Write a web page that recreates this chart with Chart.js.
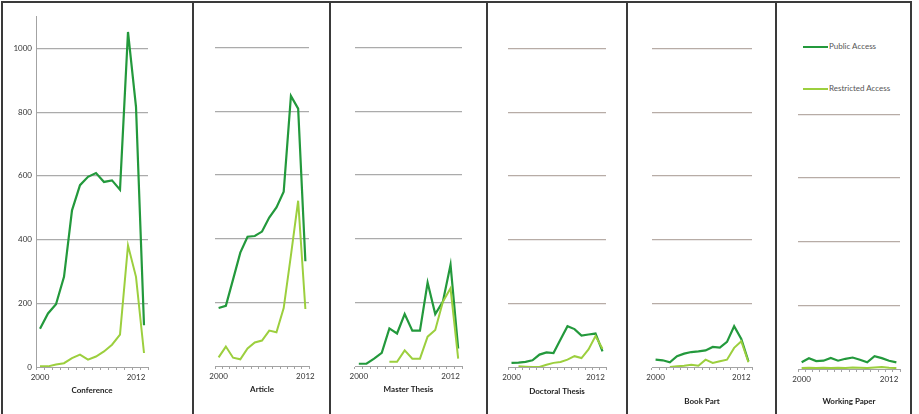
<!DOCTYPE html>
<html>
<head>
<meta charset="utf-8">
<script src="https://cdn.jsdelivr.net/npm/chart.js@4/dist/chart.umd.min.js"></script>
<style>
  body { margin: 0; background: #fff; }
  #wrap { position: relative; width: 919px; height: 414px; overflow: hidden; font-family: Lato, "Liberation Sans", sans-serif; }
  #wrap canvas { position: absolute; top: 0; }
  .vline { position: absolute; top: 2px; bottom: 0; width: 2px; background: #3a3a3a; }
  .hline { position: absolute; left: 1px; top: 1px; width: 911px; height: 2px; background: #3a3a3a; }
  .legend { position: absolute; left: 803px; font-size: 8px; line-height: 10px; color: #555; white-space: nowrap; }
  .legend span { display: inline-block; width: 25px; height: 2px; vertical-align: middle; margin-right: 1px; }
</style>
</head>
<body>
<div id="wrap">
  <div class="hline"></div>
  <div class="legend" style="top:41px"><span style="background:#23993c"></span>Public Access</div>
  <div class="legend" style="top:83px"><span style="background:#9ccf3e"></span>Restricted Access</div>
</div>
<script>
// years on the x axis
const years14 = ['2000', '2001', '2002', '2003', '2004', '2005', '2006', '2007', '2008', '2009', '2010', '2011', '2012', '2013'];
const years13 = ['2000', '2001', '2002', '2003', '2004', '2005', '2006', '2007', '2008', '2009', '2010', '2011', '2012'];
const yTicks = [0, 200, 400, 600, 800, 1000];

// values
const conferencePublic = [120, 168, 197, 283, 492, 571, 597, 609, 581, 586, 557, 1052, 817, 131];
const conferenceRestricted = [2, 2, 8, 12, 28, 39, 23, 33, 49, 70, 102, 382, 283, 44];
const articlePublic = [182, 189, 272, 356, 406, 408, 422, 466, 498, 547, 848, 808, 329];
const articleRestricted = [27, 61, 26, 21, 55, 74, 80, 111, 106, 182, 347, 519, 179];
const masterPublic = [7, 7, 23, 41, 118, 102, 163, 111, 111, 262, 163, 202, 318, 55];
const masterRestricted = [null, null, null, null, 13, 13, 49, 23, 23, 92, 113, 202, 244, 23];
const doctoralPublic = [13, 14, 16, 21, 39, 46, 44, 86, 128, 119, 99, 102, 105, 49];
const doctoralRestricted = [null, 2, 1, 0, 0, 7, 13, 16, 23, 34, 28, 55, 97, 57];
const bookPublic = [23, 21, 15, 34, 42, 47, 49, 52, 63, 61, 79, 128, 88, 18];
const bookRestricted = [null, null, 0, 2, 4, 7, 4, 23, 13, 18, 23, 60, 81, 15];
const workingPublic = [21, 34, 25, 26, 35, 26, 32, 36, 29, 21, 40, 34, 26, 21];
const workingRestricted = [3, 4, 3, 4, 3, 4, 3, 5, 4, 3, 5, 6, 4, 3];

const DARK = '#23993c';
const LIGHT = '#9ccf3e';
const FONT = 'Lato, "Liberation Sans", sans-serif';
const PX_PER_UNIT = 63.7 / 200;

const panels = [
  { left: 4, width: 189, areaLeft: 36, areaRight: 148, bottom: 367, titleY: 390, title: 'Conference',
    labels: years14, pub: conferencePublic, res: conferenceRestricted, grid: '#ababab', showY: true },
  { left: 195, width: 135, areaLeft: 215, areaRight: 309, bottom: 366, titleY: 389, title: 'Article',
    labels: years13, pub: articlePublic, res: articleRestricted, grid: '#ababab' },
  { left: 332, width: 155, areaLeft: 355, areaRight: 462, bottom: 366, titleY: 389, title: 'Master Thesis',
    labels: years14, pub: masterPublic, res: masterRestricted, grid: '#ababab' },
  { left: 489, width: 137, areaLeft: 508, areaRight: 606, bottom: 367, titleY: 391, title: 'Doctoral Thesis',
    labels: years14, pub: doctoralPublic, res: doctoralRestricted, grid: '#b7aca6' },
  { left: 628, width: 147, areaLeft: 652, areaRight: 752, bottom: 367, titleY: 401, title: 'Book Part',
    labels: years14, pub: bookPublic, res: bookRestricted, grid: '#b7aca6' },
  { left: 778, width: 133, areaLeft: 798, areaRight: 900, bottom: 369, titleY: 401, title: 'Working Paper',
    labels: years14, pub: workingPublic, res: workingRestricted, grid: '#b7aca6', skipTop: true }
];

const wrap = document.getElementById('wrap');

// panel frame lines
[2, 193, 330, 487, 627, 776, 911].forEach(x => {
  const d = document.createElement('div');
  d.className = 'vline';
  d.style.left = (x - 1) + 'px';
  wrap.appendChild(d);
});

function makePanel(p) {
  const canvas = document.createElement('canvas');
  canvas.width = p.width;
  canvas.height = 414;
  canvas.style.left = p.left + 'px';
  wrap.appendChild(canvas);

  const top = p.bottom - 1100 * PX_PER_UNIT;

  new Chart(canvas, {
    type: 'line',
    data: {
      labels: p.labels,
      datasets: [
        { label: 'Restricted Access', data: p.res, borderColor: LIGHT, borderWidth: 2, pointRadius: 0, tension: 0, fill: false },
        { label: 'Public Access', data: p.pub, borderColor: DARK, borderWidth: 2.2, pointRadius: 0, tension: 0, fill: false }
      ]
    },
    options: {
      responsive: false,
      animation: false,
      devicePixelRatio: 1,
      layout: { padding: { left: 0, right: p.left + p.width - p.areaRight, top: top, bottom: 0 } },
      plugins: { legend: { display: false }, tooltip: { enabled: false } },
      scales: {
        x: {
          type: 'category',
          offset: true,
          afterFit: s => { s.height = 414 - p.bottom; },
          border: { display: true, color: '#a3a3a3', width: 1 },
          grid: { display: true, drawOnChartArea: false, drawTicks: true, tickLength: 3, offset: true, color: '#a3a3a3' },
          ticks: {
            autoSkip: false, maxRotation: 0, padding: 3, color: '#333',
            font: { size: 8, family: FONT },
            callback: (v, i) => (i === 0 || i === 12) ? p.labels[i] : ''
          },
          title: {
            display: true, text: p.title, color: '#222',
            font: { size: 8, weight: 'bold', family: FONT },
            padding: { top: 0, bottom: 414 - p.titleY - 4.8 }
          }
        },
        y: {
          min: 0,
          max: 1100,
          afterFit: s => { s.width = p.areaLeft - p.left; },
          afterBuildTicks: s => { s.ticks = yTicks.map(v => ({ value: v })); },
          border: { display: !!p.showY, color: '#a3a3a3', width: 1 },
          grid: {
            drawTicks: false,
            lineWidth: 1.3,
            color: c => {
              const v = c.tick ? c.tick.value : -1;
              if (v === 0) return 'rgba(0,0,0,0)';
              if (p.skipTop && v === 1000) return 'rgba(0,0,0,0)';
              return p.grid;
            }
          },
          ticks: {
            display: !!p.showY, padding: 4, color: '#333', font: { size: 8, family: FONT },
            callback: v => String(v)
          }
        }
      }
    }
  });
}

panels.forEach(makePanel);
</script>
</body>
</html>
